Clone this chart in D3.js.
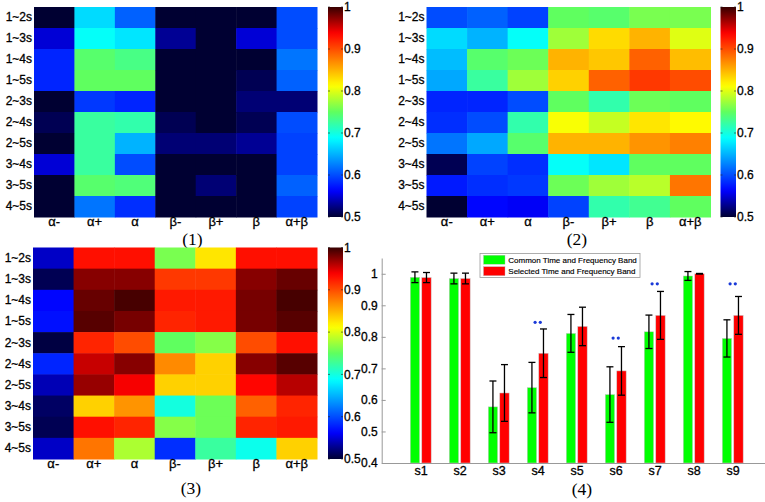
<!DOCTYPE html>
<html><head><meta charset="utf-8">
<script src="https://cdn.jsdelivr.net/npm/d3@7"></script>
<style>
body{margin:0;background:#fff;}
svg{display:block;font-family:Arial,"Liberation Sans",Helvetica,sans-serif;}
</style></head><body>
<svg id="c" width="765" height="502"></svg>
<script>
// ---------------- DATA ----------------
const rowLabels = ["1~2s","1~3s","1~4s","1~5s","2~3s","2~4s","2~5s","3~4s","3~5s","4~5s"];
const colLabels = ["α-","α+","α","β-","β+","β","α+β"];
const panel1 = [
  [0.50,0.67,0.61,0.50,0.50,0.50,0.60],
  [0.55,0.69,0.675,0.53,0.50,0.55,0.60],
  [0.58,0.745,0.735,0.50,0.50,0.50,0.62],
  [0.58,0.75,0.75,0.50,0.50,0.51,0.61],
  [0.50,0.59,0.58,0.50,0.50,0.52,0.52],
  [0.51,0.725,0.72,0.51,0.50,0.51,0.60],
  [0.50,0.725,0.65,0.52,0.52,0.53,0.595],
  [0.55,0.725,0.60,0.50,0.50,0.50,0.595],
  [0.50,0.745,0.74,0.50,0.52,0.50,0.61],
  [0.50,0.62,0.585,0.50,0.50,0.50,0.595]
];
const panel2 = [
  [0.60,0.61,0.595,0.75,0.745,0.76,0.76],
  [0.67,0.65,0.69,0.775,0.83,0.85,0.80],
  [0.655,0.745,0.755,0.85,0.84,0.89,0.845],
  [0.645,0.725,0.775,0.835,0.89,0.91,0.90],
  [0.58,0.58,0.60,0.75,0.72,0.755,0.75],
  [0.585,0.60,0.72,0.81,0.79,0.825,0.815],
  [0.62,0.645,0.745,0.85,0.85,0.865,0.875],
  [0.51,0.595,0.585,0.69,0.675,0.75,0.75],
  [0.575,0.585,0.59,0.755,0.775,0.785,0.88],
  [0.50,0.565,0.56,0.595,0.72,0.73,0.75]
];
const panel3 = [
  [0.545,0.93,0.93,0.76,0.825,0.93,0.93],
  [0.51,0.975,0.975,0.91,0.91,0.975,0.985],
  [0.565,0.985,0.995,0.925,0.925,0.98,0.995],
  [0.57,0.99,0.98,0.92,0.925,0.98,0.99],
  [0.505,0.92,0.90,0.75,0.765,0.90,0.93],
  [0.58,0.955,0.975,0.87,0.835,0.975,0.99],
  [0.54,0.97,0.94,0.835,0.835,0.935,0.96],
  [0.515,0.835,0.865,0.70,0.755,0.89,0.92],
  [0.51,0.93,0.92,0.765,0.755,0.92,0.925],
  [0.545,0.88,0.78,0.585,0.725,0.695,0.835]
];
const colorbarTicks = [0.5,0.6,0.7,0.8,0.9,1];
const panelTitles = ["(1)","(2)","(3)","(4)"];

const subjects = ["s1","s2","s3","s4","s5","s6","s7","s8","s9"];
const commonMean  = [0.989,0.985,0.578,0.639,0.811,0.617,0.816,0.993,0.795];
const commonErr   = [0.017,0.017,0.082,0.080,0.060,0.088,0.053,0.014,0.059];
const selectedMean= [0.988,0.985,0.622,0.748,0.833,0.692,0.868,1.000,0.868];
const selectedErr = [0.016,0.017,0.090,0.077,0.061,0.077,0.076,0.001,0.060];
const sigMarkers  = [null,null,null,0.846,null,0.796,0.968,null,0.968];
const barYTicks = [0.4,0.5,0.6,0.7,0.8,0.9,1];
const legendLabels = ["Common Time and Frequency Band","Selected Time and Frequency Band"];

// ---------------- DRAW ----------------
const svg = d3.select("#c");
const jet = d3.scaleLinear()
  .domain([0,0.125,0.375,0.5,0.625,0.875,1])
  .range(["rgb(0,0,50)","rgb(0,0,255)","rgb(0,255,255)","rgb(95,255,95)","rgb(255,255,0)","rgb(255,0,0)","rgb(55,0,0)"])
  .clamp(true);
const vToT = d3.scaleLinear().domain([0.5,1]).range([0,1]).clamp(true);
const colorOf = v => jet(vToT(v));

const grad = svg.append("defs").append("linearGradient").attr("id","jetg")
  .attr("x1","0").attr("y1","1").attr("x2","0").attr("y2","0");
d3.range(0,1.0001,0.02).forEach(t=>grad.append("stop").attr("offset",t).attr("stop-color",jet(t)));

function styleText(sel, size){
  sel.attr("font-size",size).attr("fill","#000").attr("stroke","#000").attr("stroke-width",0.3)
     .attr("font-family","Arial, Liberation Sans, sans-serif");
}

function heatmap(data, box, cb, title){
  const g = svg.append("g");
  const x = d3.scaleBand().domain(colLabels).range([box.x0,box.x1]);
  const y = d3.scaleBand().domain(rowLabels).range([box.y0,box.y1]);
  data.forEach((row,i)=>row.forEach((v,j)=>{
    g.append("rect").attr("x",x(colLabels[j])).attr("y",y(rowLabels[i]))
     .attr("width",x.bandwidth()+0.5).attr("height",y.bandwidth()+0.5)
     .attr("fill",colorOf(v));
  }));
  const ya = g.append("g").attr("transform",`translate(${box.x0},0)`)
    .call(d3.axisLeft(y).tickSize(0).tickPadding(2));
  ya.select(".domain").remove();
  styleText(ya.selectAll("text"),12);
  const xa = g.append("g").attr("transform",`translate(0,${box.y1})`)
    .call(d3.axisBottom(x).tickSize(0).tickPadding(0));
  xa.select(".domain").remove();
  styleText(xa.selectAll("text"),13);
  g.append("rect").attr("x",cb.x0).attr("y",box.y0).attr("width",cb.x1-cb.x0).attr("height",box.y1-box.y0)
   .attr("fill","url(#jetg)");
  const cs = d3.scaleLinear().domain([0.5,1]).range([box.y1,box.y0]);
  colorbarTicks.forEach(v=>{
    g.append("line").attr("x1",cb.x0).attr("x2",cb.x0+2).attr("y1",cs(v)).attr("y2",cs(v)).attr("stroke","#222").attr("stroke-width",0.6);
    g.append("line").attr("x1",cb.x1-2).attr("x2",cb.x1).attr("y1",cs(v)).attr("y2",cs(v)).attr("stroke","#222").attr("stroke-width",0.6);
  });
  const ca = g.append("g").attr("transform",`translate(${cb.x1},0)`)
    .call(d3.axisRight(cs).tickValues(colorbarTicks).tickSize(0).tickPadding(1).tickFormat(d3.format("")));
  ca.select(".domain").remove();
  styleText(ca.selectAll("text"),12);
  g.append("text").attr("x",title.x).attr("y",title.y).attr("text-anchor","middle")
   .attr("font-family","'Times New Roman','Liberation Serif',serif").attr("font-size",17.5).text(title.t);
}

heatmap(panel1,{x0:34,x1:317,y0:7,y1:217},{x0:328,x1:343},{x:192.5,y:245,t:panelTitles[0]});
heatmap(panel2,{x0:426.5,x1:710.5,y0:7,y1:217},{x0:720.5,x1:736},{x:577,y:245,t:panelTitles[1]});
heatmap(panel3,{x0:33,x1:317,y0:247.5,y1:459},{x0:328,x1:343},{x:191,y:494,t:panelTitles[2]});

// ---------------- BAR CHART ----------------
const bg = svg.append("g");
const bx = d3.scaleLinear().domain([0,10]).range([381.7,771.7]);
const by = d3.scaleLinear().domain([0.4,1.05]).range([463,258]);
const off = 0.148, bw = 0.24;
const series = [
  {mean:commonMean, err:commonErr, color:"#00ff00", dx:-off},
  {mean:selectedMean, err:selectedErr, color:"#ff0000", dx:off}
];
series.forEach(s=>{
  s.mean.forEach((m,i)=>{
    const cx = bx(i+1+s.dx);
    const w = bx(bw)-bx(0);
    bg.append("rect").attr("x",cx-w/2).attr("y",by(m)).attr("width",w).attr("height",by(0.4)-by(m))
      .attr("fill",s.color).attr("stroke","#c8c8c8").attr("stroke-width",0.5);
  });
});
series.forEach(s=>{
  s.mean.forEach((m,i)=>{
    const cx = bx(i+1+s.dx);
    const e = s.err[i], cw = 3.5;
    const yt = by(m+e), yb = by(m-e);
    bg.append("line").attr("x1",cx).attr("x2",cx).attr("y1",yt).attr("y2",yb).attr("stroke","#000").attr("stroke-width",1.3);
    bg.append("line").attr("x1",cx-cw).attr("x2",cx+cw).attr("y1",yt).attr("y2",yt).attr("stroke","#000").attr("stroke-width",1.3);
    bg.append("line").attr("x1",cx-cw).attr("x2",cx+cw).attr("y1",yb).attr("y2",yb).attr("stroke","#000").attr("stroke-width",1.3);
  });
});
sigMarkers.forEach((v,i)=>{
  if(v==null) return;
  [-2.6,2.6].forEach(d=>{
    bg.append("circle").attr("cx",bx(i+1)+d).attr("cy",by(v)).attr("r",1.6).attr("fill","#1a3ad8");
  });
});
const yax = bg.append("g").attr("transform",`translate(${bx(0)},0)`)
  .call(d3.axisLeft(by).tickValues(barYTicks).tickSizeInner(-4).tickSizeOuter(0).tickPadding(4).tickFormat(d3.format("")));
yax.select(".domain").attr("stroke","#999");
yax.selectAll(".tick line").attr("stroke","#999");
styleText(yax.selectAll("text"),12);
const xax = bg.append("g").attr("transform",`translate(0,${by(0.4)})`)
  .call(d3.axisBottom(bx).tickValues(d3.range(1,10)).tickSizeInner(0).tickSizeOuter(0).tickPadding(3).tickFormat(d=>subjects[d-1]));
xax.select(".domain").attr("stroke","#999");
styleText(xax.selectAll("text"),12.5);
const lg = bg.append("g");
lg.append("rect").attr("x",480).attr("y",253.5).attr("width",160).attr("height",24).attr("fill","#fff").attr("stroke","#999").attr("stroke-width",0.8);
[["#00ff00",255.2],["#ff0000",266.7]].forEach((c,i)=>{
  lg.append("rect").attr("x",483.5).attr("y",c[1]).attr("width",21.5).attr("height",9).attr("fill",c[0]).attr("stroke","#bbb").attr("stroke-width",0.4);
  lg.append("text").attr("x",508.3).attr("y",c[1]+7.6).attr("font-size",8).attr("fill","#000")
    .attr("stroke","#000").attr("stroke-width",0.15).text(legendLabels[i]);
});
bg.append("text").attr("x",582).attr("y",495).attr("text-anchor","middle")
  .attr("font-family","'Times New Roman','Liberation Serif',serif").attr("font-size",17.5).text(panelTitles[3]);
</script>
</body></html>
